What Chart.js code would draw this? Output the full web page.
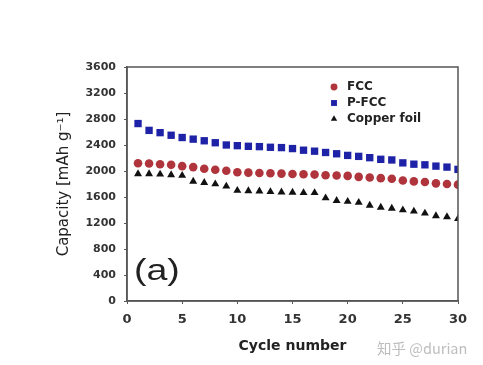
<!DOCTYPE html>
<html>
<head>
<meta charset="utf-8">
<script src="https://cdn.jsdelivr.net/npm/chart.js@4"></script>
<style>
html,body{margin:0;padding:0;background:#fff;}
#wrap{width:483px;height:365px;}
</style>
</head>
<body>
<div id="wrap"><canvas id="c" width="483" height="365"></canvas></div>
<script>
const cycles = [1,2,3,4,5,6,7,8,9,10,11,12,13,14,15,16,17,18,19,20,21,22,23,24,25,26,27,28,29,30];
const fcc = [2120,2115,2105,2095,2075,2060,2035,2020,2005,1980,1975,1970,1965,1960,1955,1950,1945,1935,1930,1925,1910,1900,1890,1880,1855,1840,1830,1810,1800,1790];
const pfcc = [2730,2625,2590,2550,2515,2490,2465,2435,2400,2390,2380,2375,2365,2360,2345,2320,2305,2285,2265,2240,2225,2205,2180,2170,2125,2105,2095,2075,2060,2025];
const copper = [1955,1955,1950,1940,1930,1840,1820,1800,1765,1700,1695,1690,1680,1675,1670,1665,1665,1585,1545,1530,1515,1470,1440,1425,1400,1380,1350,1310,1295,1265];
const seriesNames = ['FCC','P-FCC','Copper foil'];
const xTicks = [0,5,10,15,20,25,30];
const yTicks = [0,400,800,1200,1600,2000,2400,2800,3200,3600];

const FONT = "'DejaVu Sans', 'Liberation Sans', Arial, sans-serif";
const toPts = arr => cycles.map((c,i)=>({x:c,y:arr[i]}));

const frame = {
  id:'frame',
  afterDraw(chart){
    const {ctx, chartArea:a} = chart;
    ctx.save();
    ctx.strokeStyle = '#555';
    ctx.lineWidth = 1.5;
    ctx.strokeRect(a.left, a.top, a.right - a.left, a.bottom - a.top);
    // legend
    const lx = 334, tx = 347, rows = [87,103,119];
    chart.data.datasets.forEach((ds,i)=>{
      const y = rows[i];
      const r = ds.pointRadius*0.8;
      ctx.fillStyle = ds.backgroundColor;
      ctx.beginPath();
      if (ds.pointStyle==='circle'){ ctx.arc(lx, y, r, 0, Math.PI*2); }
      else if (ds.pointStyle==='rect'){ const s=Math.SQRT1_2*r; ctx.rect(lx-s, y-s, 2*s, 2*s); }
      else { const w=r*Math.sqrt(3); ctx.moveTo(lx, y-r); ctx.lineTo(lx+w/2, y+r/2); ctx.lineTo(lx-w/2, y+r/2); ctx.closePath(); }
      ctx.fill();
      ctx.fillStyle = '#222';
      ctx.font = "bold 12px " + FONT;
      ctx.textBaseline = 'middle';
      ctx.textAlign = 'left';
      ctx.fillText(ds.label, tx, y);
    });
    // panel label (slightly stretched like the reference)
    ctx.save();
    ctx.fillStyle = '#222';
    ctx.font = "30px 'Liberation Sans', Arial, sans-serif";
    ctx.textBaseline = 'middle';
    ctx.textAlign = 'left';
    ctx.translate(134, 272);
    ctx.scale(1.25, 1);
    ctx.fillText('(a)', 0, 0);
    ctx.restore();
    // watermark
    ctx.fillStyle = '#bdbdbd';
    ctx.font = "14.5px 'Noto Sans CJK SC', 'DejaVu Sans', sans-serif";
    ctx.textBaseline = 'middle';
    ctx.textAlign = 'left';
    ctx.fillText('知乎 @durian', 377, 348);
    ctx.restore();
  }
};

new Chart(document.getElementById('c'), {
  type:'scatter',
  data:{
    datasets:[
      {label:seriesNames[0], data:toPts(fcc), pointStyle:'circle', pointRadius:4.3, backgroundColor:'#b0343b', borderWidth:0},
      {label:seriesNames[1], data:toPts(pfcc), pointStyle:'rect', pointRadius:5.2, backgroundColor:'#1e22a6', borderWidth:0},
      {label:seriesNames[2], data:toPts(copper), pointStyle:'triangle', pointRadius:4.6, backgroundColor:'#111111', borderWidth:0}
    ]
  },
  options:{
    responsive:false,
    animation:false,
    layout:{padding:{left:0, top:67, right:25, bottom:0}},
    plugins:{legend:{display:false}, tooltip:{enabled:false}},
    scales:{
      x:{
        type:'linear', min:0, max:30,
        afterFit(s){ s.height = 64; },
        afterBuildTicks(s){ s.ticks = xTicks.map(v=>({value:v})); },
        grid:{display:true, drawOnChartArea:false, drawTicks:true, tickLength:3, color:'#555'},
        border:{display:true, color:'#555', width:1.5},
        ticks:{padding:8, color:'#333', font:{family:FONT, size:13, weight:'bold'}, callback:v=>String(v)},
        title:{display:true, text:'Cycle number', color:'#222', font:{family:FONT, size:14, weight:'bold'}, padding:{top:0, bottom:10}}
      },
      y:{
        type:'linear', min:0, max:3600,
        afterFit(s){ s.width = 127; },
        afterBuildTicks(s){ s.ticks = yTicks.map(v=>({value:v})); },
        grid:{display:true, drawOnChartArea:false, drawTicks:true, tickLength:3, color:'#555'},
        border:{display:true, color:'#555', width:1.5},
        ticks:{padding:8, color:'#333', font:{family:FONT, size:11, weight:'bold'}, callback:v=>String(v)},
        title:{display:true, text:'Capacity [mAh g\u207B\u00B9]', color:'#222', font:{family:FONT, size:15}, padding:{top:55, bottom:0}}
      }
    }
  },
  plugins:[frame]
});
</script>
</body>
</html>
